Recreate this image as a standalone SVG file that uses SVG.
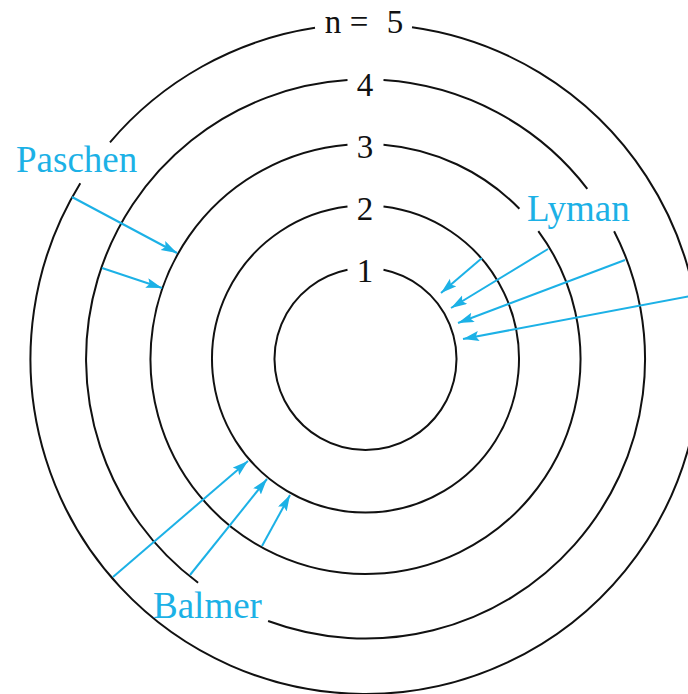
<svg xmlns="http://www.w3.org/2000/svg" width="688" height="694" viewBox="0 0 688 694">
<style>
.orbit{fill:none;stroke:#111;stroke-width:2}
.tr{fill:none;stroke:#1cb1e6;stroke-width:2;marker-end:url(#ah)}
.num{font-family:"Liberation Serif","Times New Roman",serif;font-size:33px;fill:#111;text-anchor:middle}
.lbl{font-family:"Liberation Serif","Times New Roman",serif;font-size:37px;fill:#1cb1e6}
</style>
<defs>
<marker id="ah" markerUnits="userSpaceOnUse" markerWidth="17" markerHeight="11" refX="16" refY="5" orient="auto">
<path d="M0,0 L16,5 L0,10 L3,5 Z" fill="#1cb1e6"/>
</marker>
</defs>
<rect width="688" height="694" fill="#fff"/>
<g id="orbit1"><path class="orbit" d="M383.5,269.8 A91,91 0 1 1 347.5,269.8"/><text class="num" x="365" y="282">1</text></g>
<g id="orbit2"><path class="orbit" d="M383.5,206.6 A153.5,153.5 0 1 1 347.5,206.6"/><text class="num" x="365" y="220">2</text></g>
<g id="orbit3"><path class="orbit" d="M383.5,144.75 A215,215 0 0 1 519.4,208.8 M538.3,231.1 A215,215 0 1 1 347.5,144.75"/><text class="num" x="365" y="158">3</text></g>
<g id="orbit4"><path class="orbit" d="M383.5,80.1 A279.5,279.5 0 0 1 587.3,188.8 M614.1,231.2 A279.5,279.5 0 0 1 268.1,621 M198.1,582.8 A279.5,279.5 0 0 1 347.5,80.1"/><text class="num" x="365" y="96">4</text></g>
<g id="orbit5"><path class="orbit" d="M412,27.2 A335,335 0 1 1 80.3,183.2 M110,142.3 A335,335 0 0 1 315,27.8"/><text class="num" y="33"><tspan x="333">n</tspan><tspan x="359">=</tspan><tspan x="395">5</tspan></text></g>
<g id="paschen"><text class="lbl" x="16" y="172">Paschen</text></g>
<g id="lyman"><text class="lbl" x="527" y="221">Lyman</text></g>
<g id="balmer"><text class="lbl" x="153" y="618">Balmer</text></g>
<g id="connectors">
<line class="tr" x1="72" y1="197" x2="177" y2="253"/>
<line class="tr" x1="102" y1="268" x2="162" y2="288"/>
<line class="tr" x1="482" y1="258" x2="441" y2="293"/>
<line class="tr" x1="548" y1="249" x2="451" y2="308"/>
<line class="tr" x1="625" y1="260" x2="458" y2="323"/>
<line class="tr" x1="696" y1="295" x2="463" y2="339"/>
<line class="tr" x1="113" y1="577" x2="248" y2="461"/>
<line class="tr" x1="190" y1="575" x2="267" y2="479"/>
<line class="tr" x1="262" y1="546" x2="290" y2="495"/>
</g>
</svg>
